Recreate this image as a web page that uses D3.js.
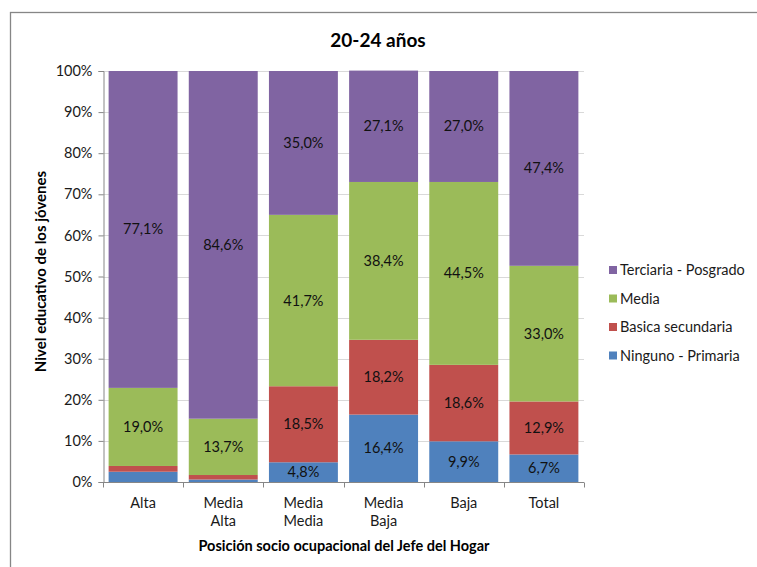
<!DOCTYPE html>
<html><head><meta charset="utf-8">
<script src="https://cdn.jsdelivr.net/npm/d3@7"></script>
<style>body{margin:0;background:#fff}svg{display:block;font-family:Lato,"Open Sans",sans-serif}</style>
</head><body><svg id="c" width="757" height="567"></svg>
<script>
const categories = [["Alta"],["Media","Alta"],["Media","Media"],["Media","Baja"],["Baja"],["Total"]];
const series = ["Ninguno - Primaria","Basica secundaria","Media","Terciaria - Posgrado"];
const ninguno   = [2.5, 0.6, 4.8, 16.4, 9.9, 6.7];
const basica    = [1.4, 1.1, 18.5, 18.2, 18.6, 12.9];
const media     = [19.0, 13.7, 41.7, 38.4, 44.5, 33.0];
const terciaria = [77.1, 84.6, 35.0, 27.1, 27.0, 47.4];
const showLabel = [[false,false,true,true,true,true],[false,false,true,true,true,true],[true,true,true,true,true,true],[true,true,true,true,true,true]];
const colors = ["#4F81BD","#C0504D","#9BBB59","#8064A2"];
const yTicks = [0,10,20,30,40,50,60,70,80,90,100];
const title = "20-24 años";
const yTitle = "Nivel educativo de los jóvenes";
const xTitle = "Posición socio ocupacional del Jefe del Hogar";

const FS = 14.5;
const svg = d3.select("#c");
svg.append("rect").attr("x",10.5).attr("y",12.5).attr("width",800).attr("height",600)
  .attr("fill","#fff").attr("stroke","#868686").attr("stroke-width",1.3);

const L=103, R=584, T=71, B=482;
const keys = categories.map((c,i)=>i);
const x = d3.scaleBand().domain(keys).range([L,R]).paddingInner(0.14).paddingOuter(0.07);
const y = d3.scaleLinear().domain([0,100]).range([B,T]);

const rows = keys.map(i=>({i, s0:ninguno[i], s1:basica[i], s2:media[i], s3:terciaria[i]}));
const stack = d3.stack().keys(["s0","s1","s2","s3"])(rows);

// gridlines
svg.append("g").selectAll("line").data(yTicks.filter(t=>t>0)).join("line")
  .attr("x1",L).attr("x2",R).attr("y1",d=>Math.round(y(d))+0.5).attr("y2",d=>Math.round(y(d))+0.5)
  .attr("stroke","#d9d9d9").attr("stroke-width",1);

// y axis
const ya = svg.append("g").attr("transform",`translate(${L+0.5},0)`)
  .call(d3.axisLeft(y).tickValues(yTicks).tickFormat(d=>d+"%").tickSize(5).tickPadding(6));
ya.select(".domain").attr("stroke","#868686");
ya.selectAll(".tick line").attr("stroke","#868686");
ya.selectAll(".tick text").attr("font-size",FS).attr("fill","#1a1a1a").attr("font-family","Lato");

// bars
stack.forEach((layer,si)=>{
  const g = svg.append("g");
  g.selectAll("rect").data(layer).join("rect")
    .attr("x",d=>x(d.data.i)).attr("width",x.bandwidth())
    .attr("y",d=>y(d[1])).attr("height",d=>y(d[0])-y(d[1]))
    .attr("fill",colors[si]);
  g.selectAll("text").data(layer.filter((d,j)=>showLabel[si][j])).join("text")
    .attr("x",d=>x(d.data.i)+x.bandwidth()/2).attr("y",d=>(y(d[0])+y(d[1]))/2+5)
    .attr("text-anchor","middle").attr("font-size",FS).attr("fill","#111")
    .text(d=>(d[1]-d[0]).toFixed(1).replace(".",",")+"%");
});

// x axis
const xa = svg.append("g").attr("transform",`translate(0,${B+0.5})`);
xa.append("line").attr("x1",L).attr("x2",R).attr("stroke","#868686");
const bounds = d3.range(categories.length+1).map(k=>L+k*(R-L)/categories.length);
xa.selectAll(".tk").data(bounds).join("line").attr("class","tk")
  .attr("x1",d=>Math.round(d)+0.5).attr("x2",d=>Math.round(d)+0.5).attr("y1",0).attr("y2",5).attr("stroke","#868686");
const cl = xa.selectAll(".cl").data(keys).join("text").attr("class","cl")
  .attr("text-anchor","middle").attr("font-size",FS).attr("fill","#1a1a1a");
cl.each(function(i){
  const t=d3.select(this);
  categories[i].forEach((line,k)=>t.append("tspan").attr("x",x(i)+x.bandwidth()/2).attr("y",25+k*18).text(line));
});

// titles
svg.append("text").attr("x",378).attr("y",47).attr("text-anchor","middle")
  .attr("font-size",19).attr("font-weight","bold").attr("fill","#000").text(title);
svg.append("text").attr("x",344).attr("y",551).attr("text-anchor","middle")
  .attr("font-size",FS).attr("font-weight","bold").attr("fill","#000").text(xTitle);
svg.append("text").attr("transform",`translate(46,${(T+B)/2-5}) rotate(-90)`).attr("text-anchor","middle")
  .attr("font-size",FS+0.5).attr("font-weight","bold").attr("fill","#000").text(yTitle);

// legend
const leg = svg.append("g");
const order = [3,2,1,0];
order.forEach((si,k)=>{
  const yy = 270 + k*28.5;
  leg.append("rect").attr("x",609).attr("y",yy-4).attr("width",8).attr("height",8).attr("fill",colors[si]);
  leg.append("text").attr("x",620).attr("y",yy+5).attr("font-size",FS).attr("fill","#1a1a1a").text(series[si]);
});
</script></body></html>
